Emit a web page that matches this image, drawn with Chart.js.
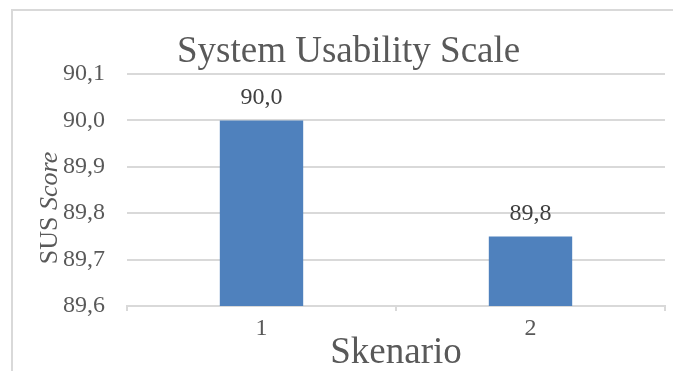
<!DOCTYPE html>
<html>
<head>
<meta charset="utf-8">
<script src="https://cdn.jsdelivr.net/npm/chart.js@4/dist/chart.umd.min.js"></script>
<style>
  html, body { margin: 0; padding: 0; background: #ffffff; }
  #wrap { width: 673px; height: 371px; position: relative; }
</style>
</head>
<body>
<div id="wrap"><canvas id="c" width="673" height="371"></canvas></div>
<script>
// Chart data
const scenarios = ['1', '2'];
const susScores = [90.0, 89.75];
const yTicks = [89.6, 89.7, 89.8, 89.9, 90.0, 90.1];

const chartTitle = 'System Usability Scale';
const xTitle = 'Skenario';
const yTitlePlain = 'SUS ';
const yTitleItalic = 'Score';

const SERIF = "'Liberation Serif', 'Times New Roman', serif";
const fmt = v => v.toFixed(1).replace('.', ',');

// Outer frame, title, axis titles and value labels
const decorations = {
  id: 'decorations',
  beforeDraw(chart) {
    const ctx = chart.ctx;
    ctx.save();
    ctx.fillStyle = '#ffffff';
    ctx.fillRect(0, 0, chart.width, chart.height);
    ctx.strokeStyle = '#d9d9d9';
    ctx.lineWidth = 2;
    ctx.strokeRect(12, 10, chart.width + 20, chart.height + 20);
    ctx.restore();
  },
  afterDraw(chart) {
    const ctx = chart.ctx;
    const area = chart.chartArea;
    ctx.save();

    // chart title
    ctx.fillStyle = '#595959';
    ctx.font = `37px ${SERIF}`;
    ctx.textAlign = 'left';
    ctx.textBaseline = 'alphabetic';
    ctx.fillText(chartTitle, area.left + 50, area.top - 12);

    // x axis title
    ctx.font = `37px ${SERIF}`;
    ctx.textAlign = 'center';
    ctx.fillText(xTitle, (area.left + area.right) / 2, chart.height - 8);

    // y axis title, "Score" set in italic
    ctx.translate(57, 208);
    ctx.rotate(-Math.PI / 2);
    ctx.font = `26px ${SERIF}`;
    const w1 = ctx.measureText(yTitlePlain).width;
    ctx.font = `italic 26px ${SERIF}`;
    const w2 = ctx.measureText(yTitleItalic).width;
    const start = -(w1 + w2) / 2;
    ctx.textAlign = 'left';
    ctx.font = `26px ${SERIF}`;
    ctx.fillText(yTitlePlain, start, 0);
    ctx.font = `italic 26px ${SERIF}`;
    ctx.fillText(yTitleItalic, start + w1, 0);
    ctx.restore();
  },
  afterDatasetsDraw(chart) {
    const ctx = chart.ctx;
    const meta = chart.getDatasetMeta(0);
    const data = chart.data.datasets[0].data;
    ctx.save();
    ctx.fillStyle = '#404040';
    ctx.font = `24px ${SERIF}`;
    ctx.textAlign = 'center';
    ctx.textBaseline = 'alphabetic';
    meta.data.forEach((bar, i) => {
      ctx.fillText(fmt(data[i]), bar.x, bar.y - 16);
    });
    ctx.restore();
  }
};

new Chart(document.getElementById('c'), {
  type: 'bar',
  data: {
    labels: scenarios,
    datasets: [{
      data: susScores,
      backgroundColor: '#4f81bd',
      borderWidth: 0,
      categoryPercentage: 1.0,
      barPercentage: 0.31
    }]
  },
  options: {
    responsive: false,
    animation: false,
    events: [],
    layout: { padding: { top: 74, right: 8, bottom: 0, left: 0 } },
    plugins: {
      legend: { display: false },
      title: { display: false },
      tooltip: { enabled: false }
    },
    scales: {
      x: {
        offset: true,
        grid: {
          offset: true,
          drawOnChartArea: false,
          drawTicks: true,
          tickLength: 5,
          color: '#d9d9d9',
          lineWidth: 2
        },
        border: { display: true, color: '#d9d9d9', width: 2 },
        ticks: {
          color: '#595959',
          font: { family: SERIF, size: 24 },
          padding: 3,
          maxRotation: 0
        },
        afterFit(scale) { scale.height = 65; }
      },
      y: {
        min: yTicks[0],
        max: yTicks[yTicks.length - 1],
        afterBuildTicks(scale) {
          scale.ticks = yTicks.map(v => ({ value: v }));
        },
        grid: {
          drawTicks: false,
          color: '#d9d9d9',
          lineWidth: 2
        },
        border: { display: false },
        ticks: {
          color: '#595959',
          font: { family: SERIF, size: 24 },
          padding: 22,
          callback: v => fmt(v)
        },
        afterFit(scale) { scale.width = 127; }
      }
    }
  },
  plugins: [decorations]
});
</script>
</body>
</html>
